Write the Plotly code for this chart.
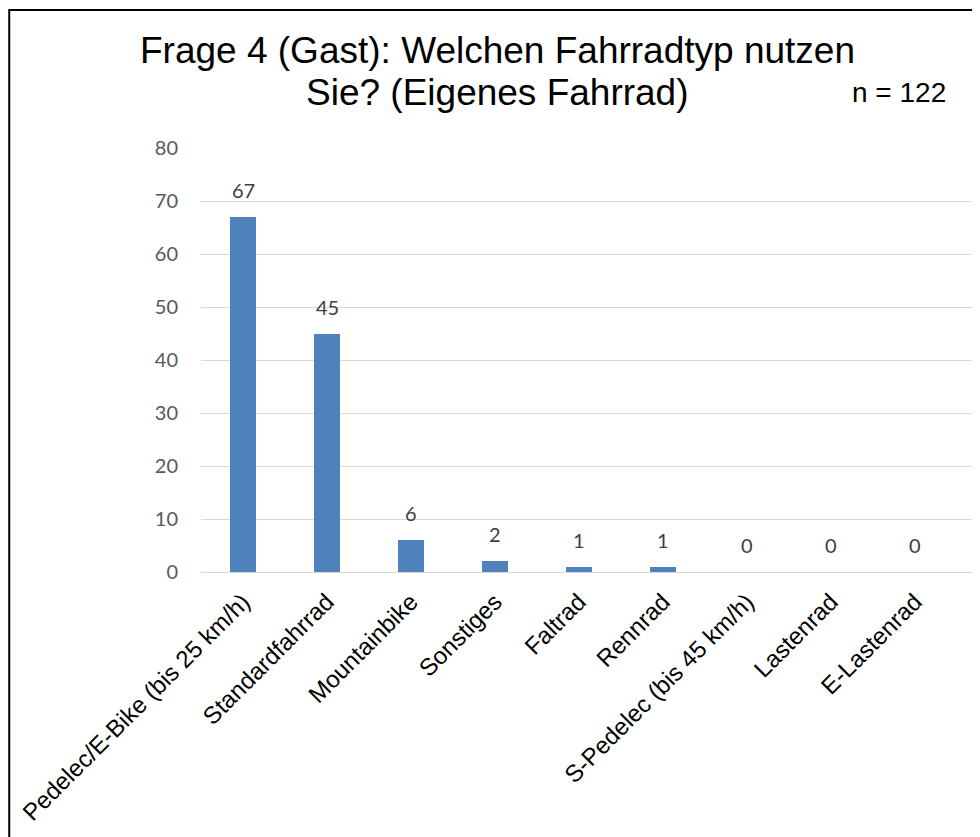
import plotly.graph_objects as go

categories = ["Pedelec/E-Bike (bis 25 km/h)", "Standardfahrrad", "Mountainbike", "Sonstiges",
              "Faltrad", "Rennrad", "S-Pedelec (bis 45 km/h)", "Lastenrad", "E-Lastenrad"]
values = [67, 45, 6, 2, 1, 1, 0, 0, 0]
y_ticks = [0, 10, 20, 30, 40, 50, 60, 70, 80]
title_line1 = "Frage 4 (Gast): Welchen Fahrradtyp nutzen"
title_line2 = "Sie? (Eigenes Fahrrad)"
n_text = "n = 122"

fig = go.Figure(go.Bar(
    x=categories, y=values, width=0.32,
    marker=dict(color="#4F81BD", line=dict(width=0)),
    hoverinfo="x+y",
))

label_annotations = [
    dict(x=c, y=v, xref="x", yref="y", text=str(v), showarrow=False,
         xanchor="center", yanchor="bottom", yshift=13,
         font=dict(family="Lato", size=20, color="#404040"))
    for c, v in zip(categories, values)
]

fig.update_layout(
    width=972, height=829,
    margin=dict(l=193, r=2, t=140, b=265),
    paper_bgcolor="white", plot_bgcolor="white",
    showlegend=False, bargap=0,
    font=dict(family="Liberation Sans"),
    xaxis=dict(range=[-0.5, 8.75], tickangle=-45, showgrid=False, showline=False,
               ticks="", ticklabelstandoff=10,
               tickfont=dict(family="Liberation Sans", size=24, color="#000000")),
    yaxis=dict(range=[0, 80], tickvals=y_ticks, showgrid=True, gridcolor="#D9D9D9",
               gridwidth=1, zeroline=True, zerolinecolor="#D9D9D9", zerolinewidth=1,
               showline=False, ticks="", ticklabelstandoff=22,
               tickfont=dict(family="Lato", size=20, color="#595959")),
    annotations=label_annotations + [
        dict(text=title_line1, xref="paper", yref="paper", x=0.382, y=1.229,
             xanchor="center", yanchor="middle", showarrow=False,
             font=dict(family="Liberation Sans", size=37, color="#000000")),
        dict(text=title_line2, xref="paper", yref="paper", x=0.382, y=1.132,
             xanchor="center", yanchor="middle", showarrow=False,
             font=dict(family="Liberation Sans", size=37, color="#000000")),
        dict(text=n_text, xref="paper", yref="paper", x=0.9614, y=1.130,
             xanchor="right", yanchor="middle", showarrow=False,
             font=dict(family="Liberation Sans", size=28, color="#000000")),
    ],
    shapes=[dict(type="rect", xref="paper", yref="paper", x0=-0.2468, x1=1.05,
                 y0=-0.7, y1=1.3255, line=dict(color="#000000", width=2),
                 fillcolor="rgba(0,0,0,0)", layer="below")],
)

fig.write_html("out.html")
